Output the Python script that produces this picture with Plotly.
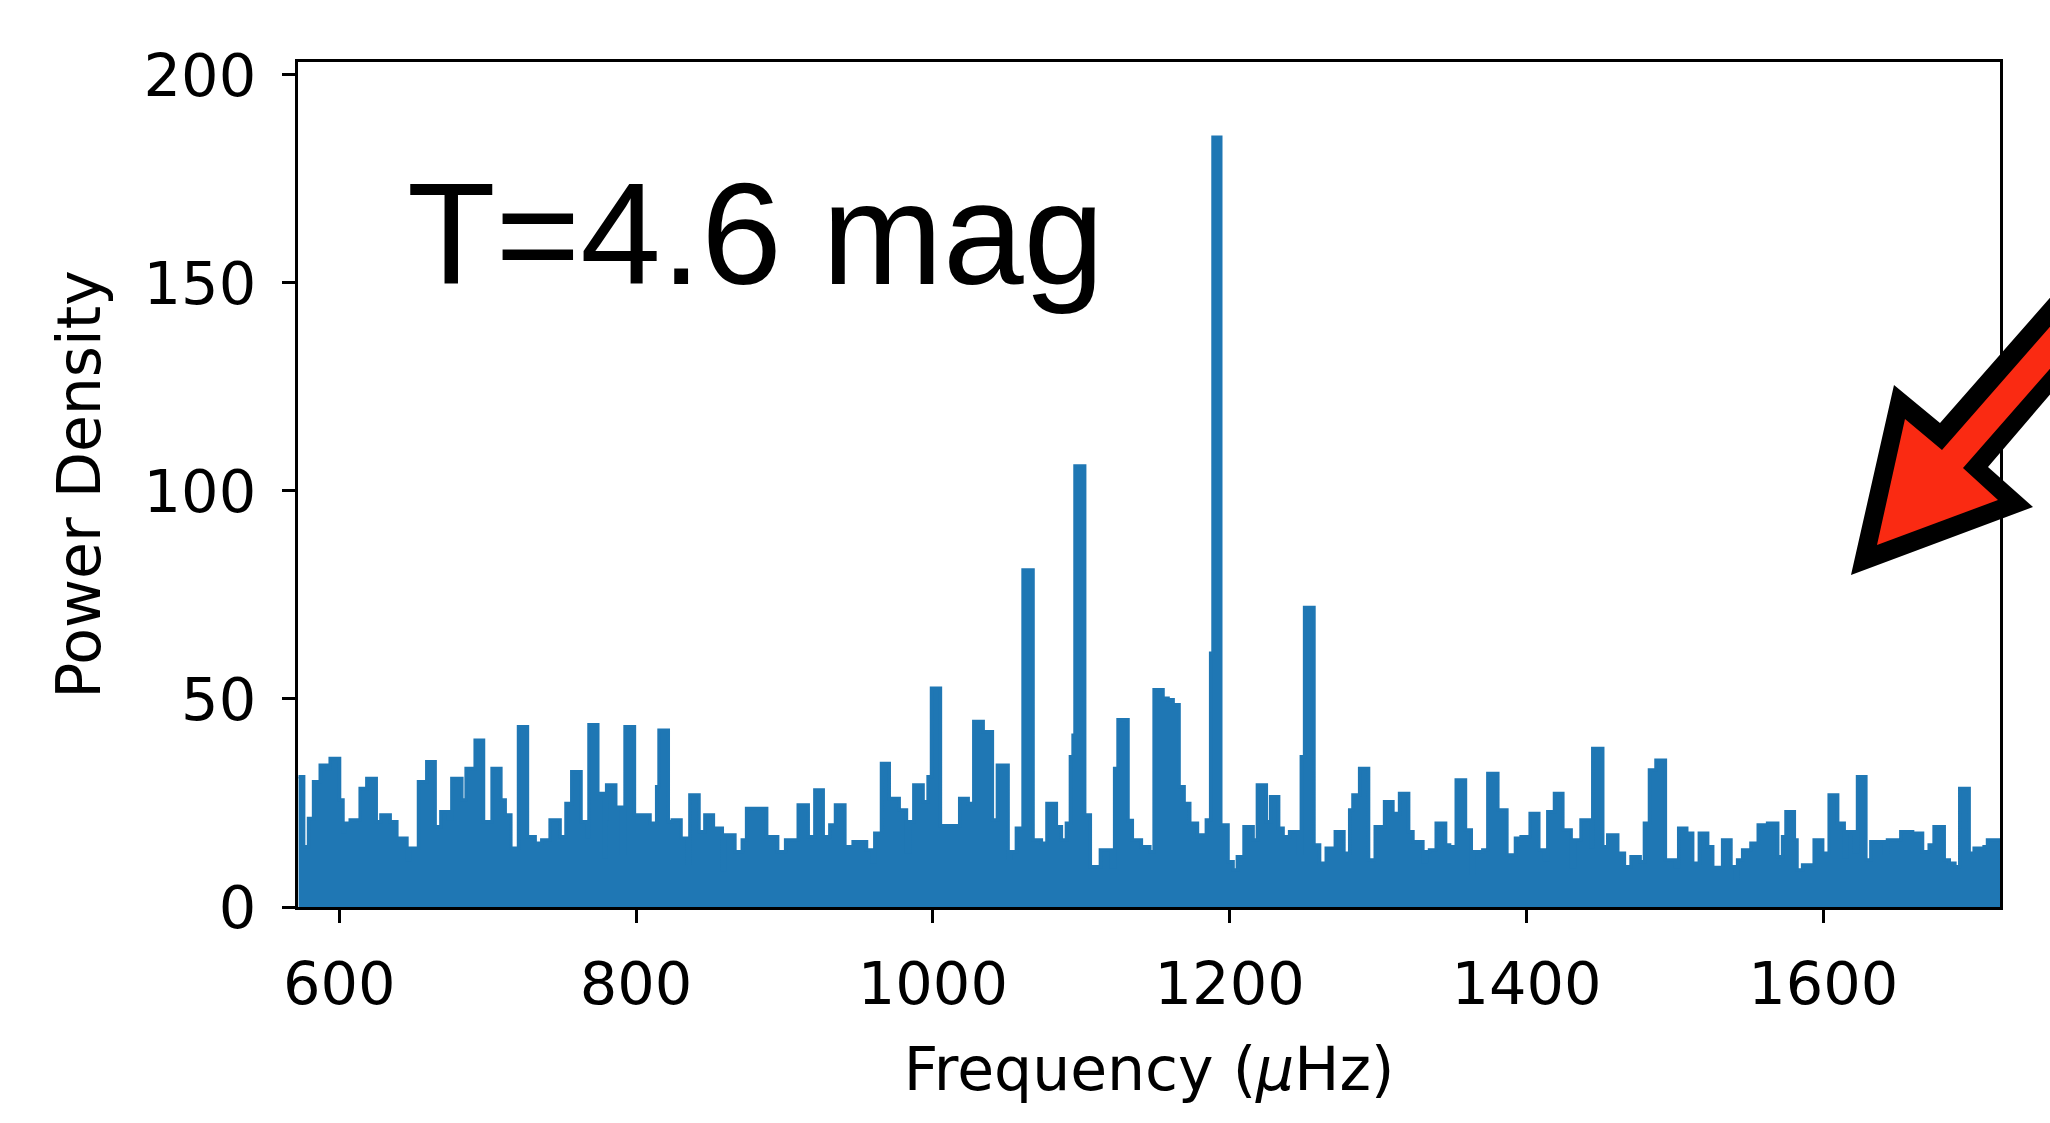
import plotly.graph_objects as go

# Step-like envelope of the power spectrum: block start frequency (uHz) and power density
freq = [
    572.6, 576.0, 579.3, 582.7, 587.2, 592.1, 593.9, 600.2, 602.5, 604.0,
    607.4, 614.1, 618.6, 624.9, 628.1, 634.3, 638.8, 645.6, 647.8, 653.4,
    659.0, 664.6, 668.5, 673.6, 675.9, 682.6, 685.5, 691.6, 697.2, 703.0,
    708.9, 711.8, 715.6, 720.8, 726.8, 732.0, 736.5, 742.1, 748.8, 752.8,
    756.7, 762.9, 766.8, 768.3, 774.2, 778.7, 779.6, 780.2, 786.3, 790.3,
    792.6, 798.9, 809.4, 813.9, 815.5, 821.7, 824.4, 830.3, 834.8, 836.3,
    842.4, 846.4, 852.1, 858.1, 859.9, 866.6, 871.6, 874.5, 888.0, 895.4,
    900.8, 909.3, 916.0, 920.5, 926.1, 930.6, 934.4, 940.7, 946.3, 955.3,
    959.3, 960.9, 965.4, 970.6, 977.3, 982.2, 984.5, 987.2, 993.4, 996.8,
    999.1, 1005.1, 1018.1, 1023.8, 1027.6, 1033.9, 1040.1, 1043.5, 1050.7, 1052.3,
    1056.3, 1060.8, 1067.5, 1073.1, 1076.9, 1083.2, 1086.6, 1090.0, 1092.7, 1094.5,
    1095.8, 1102.3, 1106.1, 1112.9, 1120.3, 1122.5, 1124.8, 1131.5, 1134.4, 1140.5,
    1146.2, 1149.1, 1155.1, 1158.5, 1161.9, 1165.9, 1169.3, 1173.1, 1178.3, 1179.8,
    1184.3, 1187.2, 1188.8, 1194.0, 1198.9, 1202.3, 1205.2, 1209.7, 1215.8, 1218.7,
    1224.7, 1227.6, 1233.0, 1236.0, 1240.4, 1246.5, 1248.3, 1250.5, 1256.8, 1260.6,
    1265.1, 1271.2, 1277.0, 1280.9, 1283.1, 1287.6, 1293.6, 1298.1, 1304.4, 1310.0,
    1314.5, 1320.6, 1323.5, 1330.2, 1332.5, 1334.7, 1339.2, 1345.5, 1348.2, 1352.7,
    1358.9, 1362.8, 1364.3, 1370.6, 1374.0, 1380.7, 1386.8, 1392.6, 1396.4, 1402.5,
    1408.3, 1412.1, 1414.4, 1418.9, 1424.5, 1430.1, 1432.3, 1436.8, 1443.6, 1444.7,
    1451.4, 1454.8, 1461.5, 1466.0, 1470.5, 1476.6, 1479.5, 1482.9, 1487.3, 1493.6,
    1500.4, 1502.6, 1508.0, 1512.0, 1516.5, 1522.1, 1525.5, 1532.2, 1537.8, 1540.5,
    1542.3, 1545.7, 1551.3, 1556.2, 1562.5, 1569.3, 1572.6, 1574.9, 1580.5, 1582.3,
    1586.1, 1593.9, 1599.6, 1604.0, 1609.7, 1614.1, 1615.9, 1620.9, 1623.1, 1628.7,
    1632.1, 1641.1, 1643.3, 1652.3, 1660.2, 1666.9, 1671.4, 1674.7, 1681.5, 1684.9,
    1688.7, 1692.0, 1698.3, 1701.7, 1708.4, 1710.7, 1720.0,
]
power = [
    31.3, 14.5, 21.3, 30.1, 34.1, 33.3, 35.7, 25.7, 18.1, 20.1,
    20.9, 28.5, 30.9, 20.5, 22.1, 20.5, 16.5, 11.3, 14.1, 30.1,
    34.9, 19.3, 22.9, 21.3, 30.9, 25.7, 33.3, 40.1, 20.5, 33.3,
    25.7, 22.1, 14.1, 43.3, 16.9, 15.3, 16.1, 20.9, 16.9, 24.9,
    32.5, 20.5, 16.9, 43.8, 27.3, 12.0, 21.3, 29.3, 24.0, 12.9,
    43.3, 22.1, 20.1, 28.9, 42.5, 20.5, 20.9, 16.5, 10.5, 26.9,
    18.1, 22.1, 18.9, 8.9, 17.3, 13.3, 16.1, 23.7, 16.9, 13.3,
    16.1, 24.5, 16.9, 28.1, 16.9, 19.7, 24.5, 14.5, 15.7, 13.7,
    10.9, 17.7, 34.5, 26.1, 23.3, 13.3, 20.5, 29.3, 25.3, 31.3,
    52.6, 19.5, 26.1, 24.9, 44.6, 42.1, 20.9, 34.1, 11.7, 13.3,
    18.9, 81.0, 16.1, 15.3, 24.9, 19.3, 16.1, 20.1, 36.1, 41.3,
    106.0, 22.1, 9.7, 13.7, 9.7, 33.3, 45.0, 20.8, 16.1, 14.5,
    13.3, 52.2, 50.2, 49.8, 48.6, 28.9, 24.9, 20.1, 16.9, 17.3,
    20.9, 61.0, 185.0, 19.7, 10.9, 8.9, 12.1, 19.3, 16.1, 29.3,
    20.5, 26.5, 18.9, 16.9, 18.1, 12.9, 36.1, 72.0, 14.9, 10.5,
    14.1, 18.1, 12.9, 23.3, 26.9, 33.3, 11.3, 19.3, 25.3, 22.5,
    27.3, 18.1, 15.7, 10.9, 13.3, 13.7, 20.1, 14.9, 14.5, 30.5,
    18.5, 8.1, 13.3, 13.7, 32.1, 23.3, 12.5, 16.5, 16.9, 22.5,
    13.7, 11.3, 22.9, 27.3, 18.5, 9.7, 16.1, 20.9, 14.5, 38.1,
    14.5, 17.3, 12.9, 9.7, 12.1, 10.9, 20.1, 32.9, 35.3, 11.3,
    9.7, 18.9, 17.7, 10.5, 17.7, 14.5, 9.5, 16.1, 9.7, 6.9,
    11.3, 13.7, 15.3, 19.7, 20.1, 12.1, 16.9, 22.9, 16.1, 8.9,
    10.1, 16.1, 12.9, 26.9, 20.1, 12.1, 18.1, 13.3, 31.3, 11.3,
    15.7, 12.9, 16.1, 18.1, 17.7, 13.3, 14.9, 19.3, 11.3, 10.5,
    9.7, 28.5, 12.9, 14.1, 14.5, 16.1, 16.1,
]

x_ticks = [600, 800, 1000, 1200, 1400, 1600]
y_ticks = [0, 50, 100, 150, 200]
x_range = [572.2, 1719.1]
y_range = [0, 203.1]

W, H = 2050, 1123
ML, MR, MT, MB = 298, 50, 62, 216
PW, PH = W - ML - MR, H - MT - MB

def px(x):
    return (x - ML) / PW

def py(y):
    return (H - MB - y) / PH

def path(pts):
    return "M " + " L ".join(f"{px(a):.5f},{py(b):.5f}" for a, b in pts) + " Z"

arrow_outer = [(1851, 575), (1894, 385), (1940, 423), (2070, 275), (2070, 371),
               (1988, 467), (2033, 507)]
arrow_inner = [(1877, 545), (1905, 419), (1942, 450), (2070, 304), (2070, 346),
               (1963, 468), (1998, 500)]

blue = "#1f77b4"
fig = go.Figure()
fig.add_trace(go.Scatter(
    x=freq, y=power, mode="lines", line=dict(color=blue, width=3.5, shape="hv"),
    fill="tozeroy", fillcolor=blue, showlegend=False, hoverinfo="skip",
))

axis_common = dict(
    showgrid=False, zeroline=False, showline=True, linecolor="black", linewidth=3,
    mirror=True, ticks="outside", ticklen=13, tickwidth=3, tickcolor="black",
    tickfont=dict(family="DejaVu Sans", size=59, color="black"),
)
fig.update_xaxes(range=x_range, tickvals=x_ticks, ticktext=[str(v) for v in x_ticks],
                 title=dict(text="Frequency (<i>μ</i>Hz)", standoff=32,
                            font=dict(family="DejaVu Sans", size=60, color="black")),
                 ticklabelstandoff=10, **axis_common)
fig.update_yaxes(range=y_range, tickvals=y_ticks, ticktext=[str(v) for v in y_ticks],
                 title=dict(text="Power Density", standoff=24,
                            font=dict(family="DejaVu Sans", size=60, color="black")),
                 ticklabelstandoff=14, **axis_common)

fig.add_annotation(text="T=4.6 mag", xref="paper", yref="paper",
                   x=px(405), y=py(234), xanchor="left", yanchor="middle",
                   showarrow=False,
                   font=dict(family="Liberation Sans", size=145, color="black"))

fig.add_shape(type="path", path=path(arrow_outer), xref="paper", yref="paper",
              fillcolor="black", line=dict(color="black", width=0), layer="above")
fig.add_shape(type="path", path=path(arrow_inner), xref="paper", yref="paper",
              fillcolor="#fa2a12", line=dict(color="#fa2a12", width=0), layer="above")

fig.update_layout(
    width=W, height=H, margin=dict(l=ML, r=MR, t=MT, b=MB, autoexpand=False),
    paper_bgcolor="white", plot_bgcolor="white",
)
fig.write_html("out.html")
